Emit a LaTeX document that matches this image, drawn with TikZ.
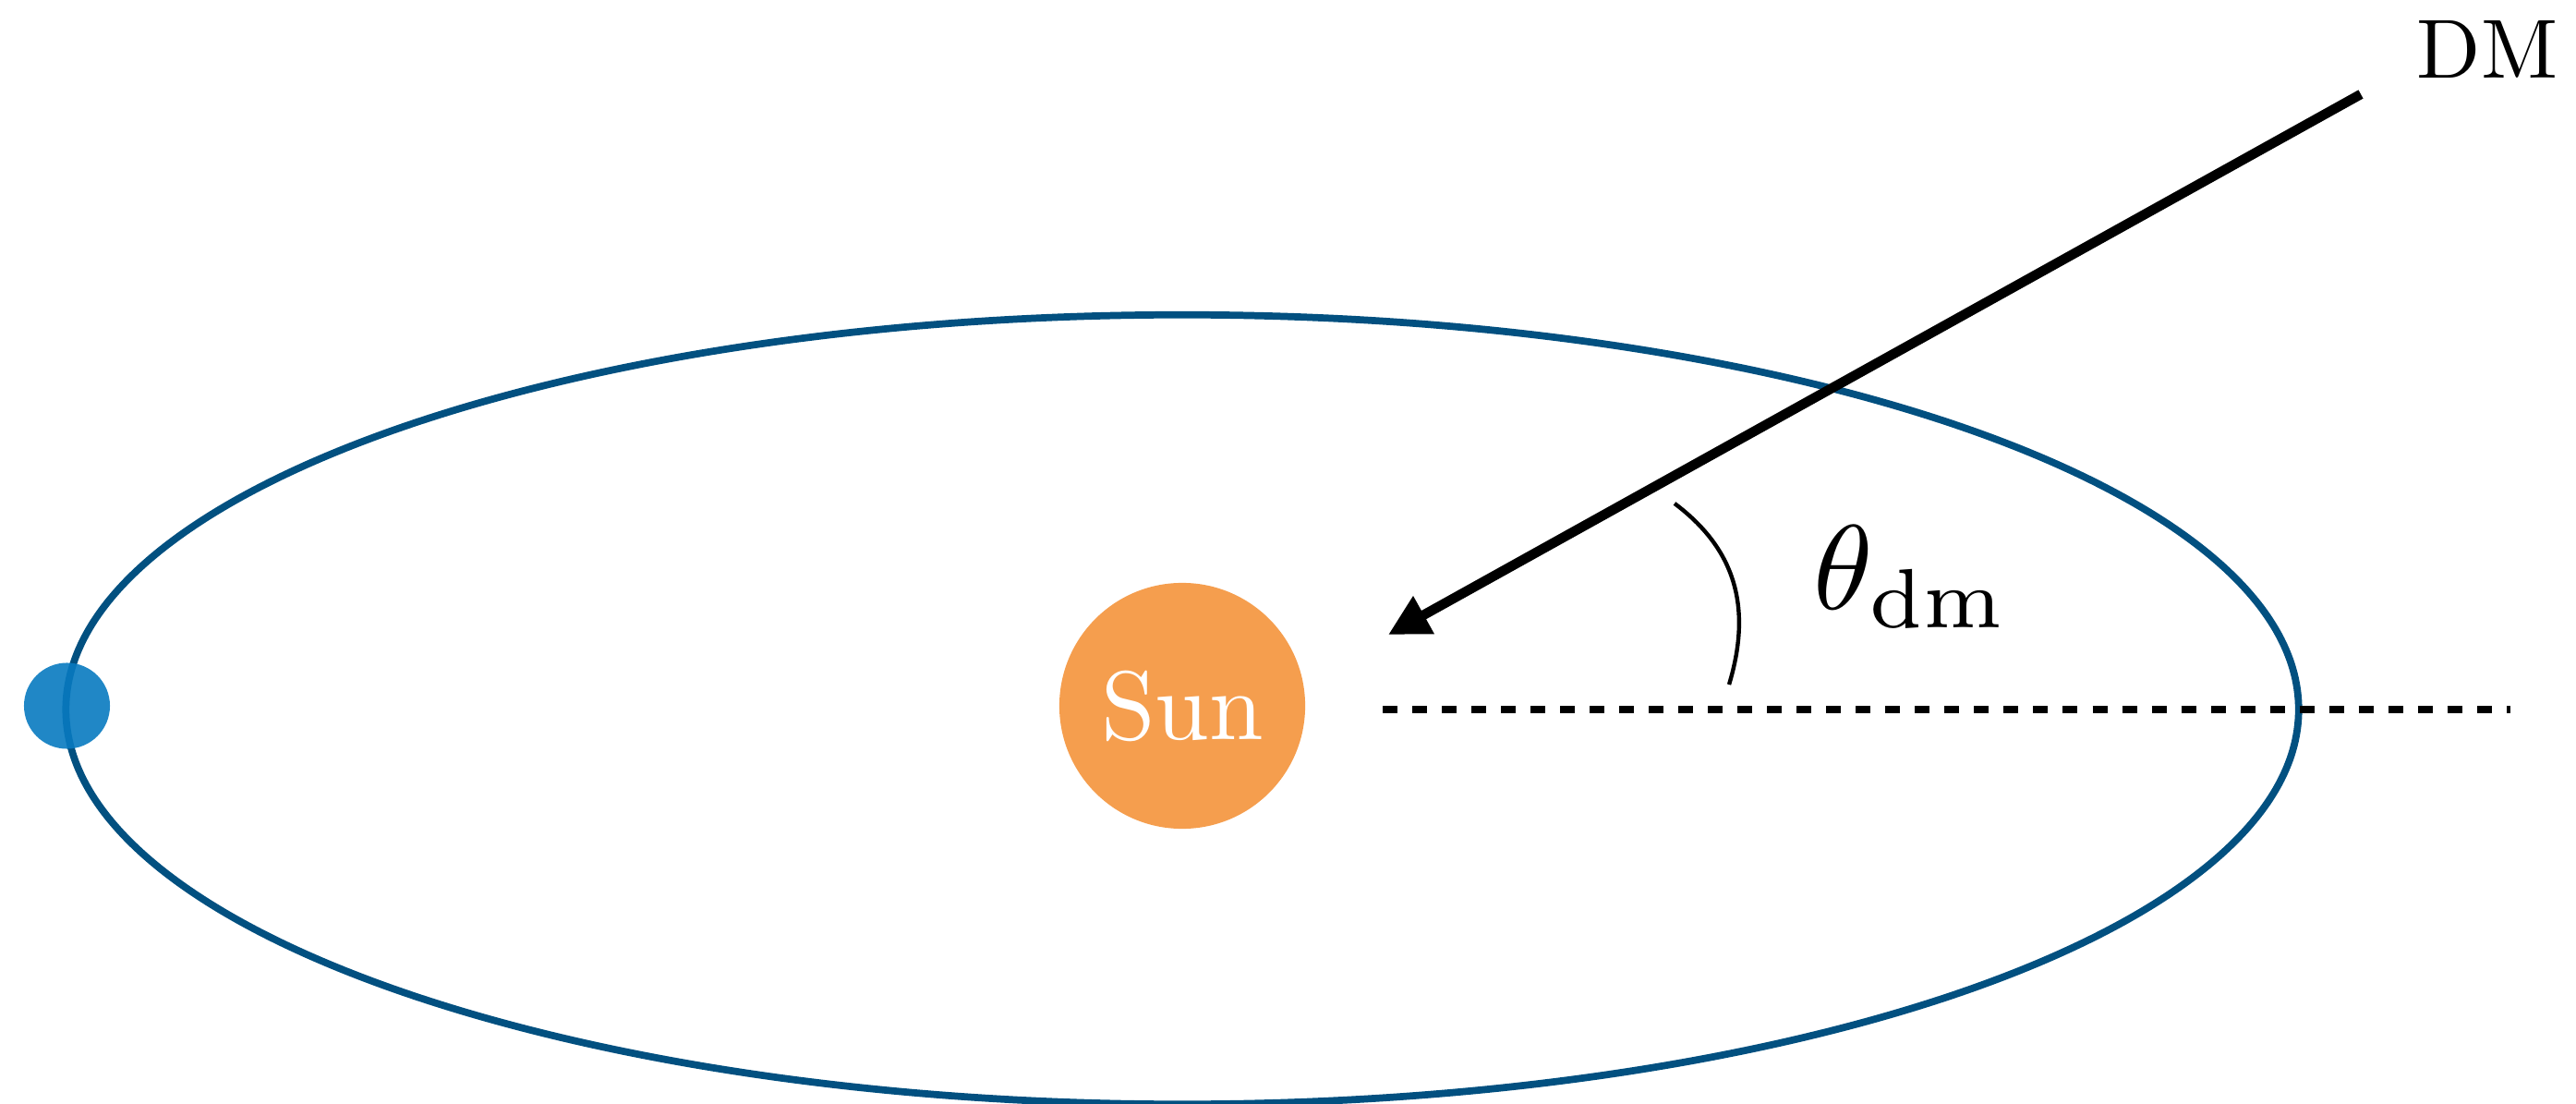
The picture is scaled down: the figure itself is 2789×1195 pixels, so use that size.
\documentclass[tikz,border=0pt]{standalone}
\usetikzlibrary{arrows.meta}
\definecolor{orbitblue}{RGB}{2,80,128}
\definecolor{planetblue}{RGB}{8,122,192}
\definecolor{sunorange}{RGB}{245,158,78}
\begin{document}
\begin{tikzpicture}[x=0.01cm,y=-0.01cm,
  orbit/.style={draw=orbitblue,line width=2.2pt},
  planet/.style={circle,fill=planetblue,fill opacity=0.9,minimum size=0.93cm,inner sep=0pt},
  sunbody/.style={circle,fill=sunorange,minimum size=2.66cm,inner sep=0pt,text=white},
  refline/.style={line width=2.3pt,line cap=butt,dash pattern=on 0.16cm off 0.16cm},
  dmarrow/.style={line width=3pt,line cap=butt,-{Triangle[length=0.44cm,width=0.44cm]}},
  anglearc/.style={line width=1.25pt},
  lbl/.style={anchor=base west,inner sep=0pt}]
\useasboundingbox (0,0) rectangle (2789,1195);
% orbit
\draw[orbit] (1280,768) ellipse [x radius=12.08cm, y radius=4.27cm];
% planet
\node[planet] (earth) at (72.5,764) {};
% sun
\node[sunbody] (sun) at (1280,764) {\scalebox{3.0}{Sun}};
% reference direction
\coordinate (refA) at (1497,768);
\coordinate (refB) at (2718,768);
\draw[refline] (refA) -- (refB);
% DM arrow
\coordinate (dmstart) at (2556,102);
\coordinate (dmtip) at (1503,687);
\draw[dmarrow] (dmstart) -- (dmtip);
% angle arc
\coordinate (arcB) at (1872,741);
\coordinate (arcT) at (1813,545);
\draw[anglearc] (arcB) .. controls (1898,655) and (1877,593) .. (arcT);
% labels
\node[lbl] (dmlabel) at (2616,85) {\scalebox{2.58}{DM}};
\node[lbl] (theta) at (1963,660) {\scalebox{3.7}{$\theta_{\mathrm{dm}}$}};
\end{tikzpicture}
\end{document}
